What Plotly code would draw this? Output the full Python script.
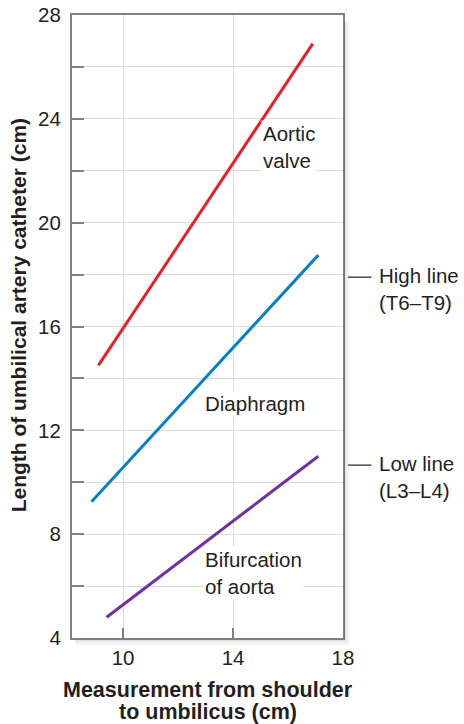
import plotly.graph_objects as go

# Data
aortic_x = [9.1, 16.9]
aortic_y = [14.5, 26.9]
diaphragm_x = [8.85, 17.1]
diaphragm_y = [9.25, 18.75]
bifurcation_x = [9.4, 17.1]
bifurcation_y = [4.8, 11.0]

y_ticks = [4, 6, 8, 10, 12, 14, 16, 18, 20, 22, 24, 26, 28]
y_labels = [str(v) if v % 4 == 0 else "" for v in y_ticks]
x_ticks = [10, 14, 18]
x_labels = ["10", "14", "18"]

high_line_y = 17.9
low_line_y = 10.66

FONT = "Liberation Sans, Arial, Helvetica, sans-serif"
TXT = "#231f20"
FS = 20.5

fig = go.Figure()
fig.add_trace(go.Scatter(x=aortic_x, y=aortic_y, mode="lines",
                         line=dict(color="#e8202a", width=3), showlegend=False))
fig.add_trace(go.Scatter(x=diaphragm_x, y=diaphragm_y, mode="lines",
                         line=dict(color="#0a80c8", width=3), showlegend=False))
fig.add_trace(go.Scatter(x=bifurcation_x, y=bifurcation_y, mode="lines",
                         line=dict(color="#7030a0", width=3), showlegend=False))

ann = dict(font=dict(family=FONT, size=FS, color=TXT), showarrow=False,
           xanchor="left", yanchor="middle", align="left",
           bgcolor="white")
annotations = [
    dict(x=15.0, y=22.9, text="Aortic<br>valve", **ann),
    dict(x=12.9, y=13.05, text="Diaphragm", **ann),
    dict(x=12.9, y=6.5, text="Bifurcation<br>of aorta", **ann),
]
side = dict(font=dict(family=FONT, size=FS, color=TXT), showarrow=False,
            xanchor="left", yanchor="top", align="left", xref="paper", yref="y")
annotations += [
    dict(x=1.125, y=high_line_y + 0.6, text="High line<br>(T6–T9)", **side),
    dict(x=1.125, y=low_line_y + 0.6, text="Low line<br>(L3–L4)", **side),
]
title_font = dict(family=FONT, size=21.5, color=TXT)
annotations += [
    dict(x=0.5, y=-0.0835, xref="paper", yref="paper", showarrow=False,
         xanchor="center", yanchor="middle", font=title_font,
         text="<b>Measurement from shoulder</b>"),
    dict(x=0.5, y=-0.1188, xref="paper", yref="paper", showarrow=False,
         xanchor="center", yanchor="middle", font=title_font,
         text="<b>to umbilicus (cm)</b>"),
    dict(x=-0.199, y=0.518, xref="paper", yref="paper", showarrow=False,
         xanchor="center", yanchor="middle", font=dict(family=FONT, size=21, color=TXT),
         textangle=-90,
         text="<b>Length of umbilical artery catheter (cm)</b>"),
]

shapes = []
for yv in (high_line_y, low_line_y):
    shapes.append(dict(type="line", xref="paper", yref="y", x0=1.018, x1=1.105,
                       y0=yv, y1=yv, line=dict(color=TXT, width=1.2)))
# soft shadow around plot frame
for i, op in enumerate([0.10, 0.06, 0.03]):
    shapes.append(dict(type="rect", xref="paper", yref="paper",
                       x0=1 + 0.004 + i * 0.0074, x1=1 + 0.004 + (i + 1) * 0.0074,
                       y0=-0.006 - i * 0.0032, y1=0.99,
                       line=dict(width=0), fillcolor=f"rgba(0,0,0,{op})"))
    shapes.append(dict(type="rect", xref="paper", yref="paper",
                       x0=0.012, x1=1 + 0.004 + i * 0.0074,
                       y0=-0.003 - 0.0032 * (i + 1), y1=-0.003 - 0.0032 * i,
                       line=dict(width=0), fillcolor=f"rgba(0,0,0,{op})"))

fig.update_layout(
    width=464, height=724,
    margin=dict(l=72, r=121, t=15, b=86, autoexpand=False),
    plot_bgcolor="white", paper_bgcolor="white",
    font=dict(family=FONT, color=TXT),
    annotations=annotations, shapes=shapes,
    xaxis=dict(range=[8.14, 18], tickvals=x_ticks, ticktext=x_labels,
               ticks="inside", ticklen=10, tickwidth=1.5, tickcolor="#808080",
               showgrid=True, gridcolor="#dcdcdc", gridwidth=1.2,
               showline=True, mirror=True, linecolor="#808080", linewidth=2,
               zeroline=False, tickfont=dict(size=FS, color=TXT), automargin=False),
    yaxis=dict(range=[4, 28], tickvals=y_ticks, ticktext=y_labels,
               ticks="inside", ticklen=12, tickwidth=1.5, tickcolor="#808080",
               showgrid=True, gridcolor="#dcdcdc", gridwidth=1.2,
               showline=True, mirror=True, linecolor="#808080", linewidth=2,
               zeroline=False, tickfont=dict(size=FS, color=TXT), automargin=False,
               ticklabelstandoff=5),
)

fig.write_html("out.html", config={"displayModeBar": False},
               post_script="document.body.style.margin='0';")
